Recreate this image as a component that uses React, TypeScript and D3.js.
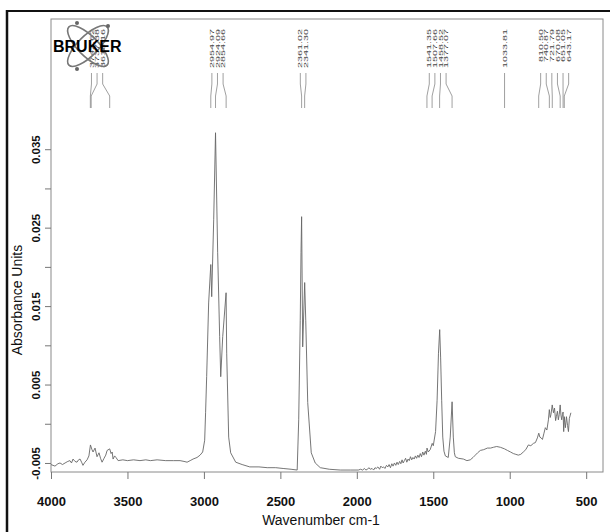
import React, { useEffect, useRef } from "react";
import * as d3 from "d3";

// spectrum: [wavenumber cm-1, absorbance], high wavenumber first
const spectrum: [number, number][] = [
  [4000, -0.0052], [3974, -0.0054], [3955, -0.0051], [3941, -0.005], [3925, -0.0052], [3908, -0.005],
  [3890, -0.0048], [3876, -0.0047], [3866, -0.005], [3856, -0.0045], [3843, -0.0048], [3830, -0.0049],
  [3820, -0.0046], [3810, -0.0045], [3800, -0.0049], [3791, -0.0053], [3778, -0.0049], [3764, -0.0046],
  [3752, -0.0041], [3742, -0.0027], [3732, -0.0033], [3725, -0.0036], [3712, -0.0031], [3699, -0.0042],
  [3686, -0.0037], [3676, -0.0044], [3666, -0.0049], [3653, -0.0044], [3642, -0.004], [3633, -0.0034],
  [3616, -0.0032], [3607, -0.0038], [3600, -0.0036], [3594, -0.0045], [3584, -0.0041], [3575, -0.0043],
  [3561, -0.0047], [3530, -0.0046], [3500, -0.0047], [3460, -0.0046], [3418, -0.0047], [3380, -0.0046],
  [3350, -0.0047], [3306, -0.0046], [3250, -0.0047], [3200, -0.0047], [3156, -0.0047], [3130, -0.0048],
  [3110, -0.0049], [3090, -0.0047], [3071, -0.0045], [3045, -0.0043], [3025, -0.004], [3008, -0.0036],
  [2995, -0.0021], [2989, 0.0014], [2982, 0.006], [2969, 0.0154], [2955, 0.0203], [2949, 0.0162],
  [2936, 0.026], [2924, 0.0371], [2910, 0.0218], [2897, 0.0111], [2890, 0.006], [2877, 0.0111],
  [2855, 0.0167], [2851, 0.009], [2838, -0.0017], [2825, -0.0037], [2792, -0.0049], [2750, -0.0052],
  [2700, -0.0055], [2640, -0.0055], [2586, -0.0056], [2530, -0.0056], [2482, -0.0057], [2430, -0.0058],
  [2390, -0.0059], [2380, 0.0005], [2370, 0.0132], [2365, 0.0218], [2361, 0.0264], [2354, 0.0098],
  [2341, 0.018], [2334, 0.0132], [2321, 0.0027], [2298, -0.0037], [2272, -0.005], [2239, -0.0056],
  [2180, -0.0058], [2108, -0.0059], [2040, -0.0059], [1990, -0.0059], [1975, -0.0058], [1962, -0.0059],
  [1950, -0.0057], [1941, -0.0059], [1930, -0.0058], [1921, -0.0056], [1912, -0.0058], [1900, -0.0057],
  [1890, -0.0059], [1881, -0.0056], [1873, -0.0057], [1862, -0.0055], [1851, -0.0058], [1843, -0.0054],
  [1834, -0.0056], [1825, -0.0055], [1816, -0.0057], [1806, -0.0053], [1797, -0.0055], [1789, -0.0052],
  [1780, -0.0056], [1771, -0.0051], [1763, -0.0054], [1754, -0.005], [1745, -0.0053], [1737, -0.0049],
  [1729, -0.0052], [1720, -0.0048], [1712, -0.0051], [1704, -0.0046], [1697, -0.005], [1689, -0.0047],
  [1681, -0.0044], [1673, -0.0049], [1665, -0.0045], [1657, -0.0047], [1649, -0.0042], [1641, -0.0046],
  [1633, -0.0043], [1625, -0.0045], [1617, -0.0041], [1609, -0.0044], [1601, -0.004], [1593, -0.0043],
  [1585, -0.0038], [1577, -0.0042], [1569, -0.0036], [1561, -0.004], [1552, -0.0035], [1545, -0.0039],
  [1541, -0.0031], [1533, -0.0036], [1520, -0.0033], [1507, -0.0025], [1500, -0.0028], [1485, -0.001],
  [1475, 0.003], [1466, 0.009], [1458, 0.012], [1452, 0.0085], [1445, 0.003], [1438, -0.0017],
  [1430, -0.0035], [1421, -0.0041], [1402, -0.0043], [1389, -0.0017], [1377, 0.0028], [1369, -0.0017],
  [1362, -0.0037], [1356, -0.0042], [1336, -0.0044], [1303, -0.0045], [1280, -0.0047], [1258, -0.0046],
  [1240, -0.0043], [1225, -0.004], [1210, -0.0037], [1192, -0.0034], [1170, -0.0033], [1146, -0.0031],
  [1125, -0.0031], [1107, -0.003], [1085, -0.0029], [1061, -0.003], [1034, -0.0032], [1015, -0.0034],
  [995, -0.0036], [976, -0.0038], [960, -0.0039], [944, -0.004], [928, -0.0039], [911, -0.0036],
  [895, -0.0033], [878, -0.0027], [862, -0.0028], [845, -0.0025], [832, -0.0024], [819, -0.0018],
  [810, -0.0012], [803, -0.0017], [795, -0.0018], [786, -0.002], [776, -0.0012], [767, -0.0005],
  [757, -0.0008], [747, 0.0005], [741, 0.0018], [735, 0.0008], [730, 0.0012], [722, 0.0024], [714, 0.0014],
  [707, 0.002], [700, 0.0004], [695, 0.0009], [688, 0.0016], [682, 0.0005], [676, 0.0012], [670, 0.0024],
  [665, 0.0011], [660, 0.0005], [655, 0.0012], [651, 0.0015], [647, -0.001], [643, 0.0009], [640, 0.0002],
  [636, -0.0005], [629, 0.0009], [622, -0.0002], [616, -0.001], [610, 0.0007], [604, 0.0011], [600, 0.0014],
];

const xTicks = [4000, 3500, 3000, 2500, 2000, 1500, 1000, 500];
const yTicks = [-0.005, 0, 0.005, 0.01, 0.015, 0.02, 0.025, 0.03, 0.035];
const yTickLabels = ["-0.005", "", "0.005", "", "0.015", "", "0.025", "", "0.035"];

// peak picks, grouped the way OPUS stacked their labels
const peakGroups = [
  [3742.62, 3737.38, 3616.16],
  [2954.97, 2924.09, 2854.66],
  [2361.02, 2341.3],
  [1541.35, 1507.66, 1458.52, 1377.07],
  [1033.81],
  [810.5, 740.87, 721.79, 670.08, 651.05, 643.17],
];

const App = () => {
  const ref = useRef<SVGSVGElement>(null);

  useEffect(() => {
    const W = 611;
    const H = 532;
    const margin = { top: 19, right: 8, bottom: 60, left: 51 };
    const font = "'Liberation Sans', Arial, sans-serif";

    const svg = d3.select(ref.current);
    svg.selectAll("*").remove();

    svg.append("rect").attr("width", W).attr("height", H).attr("fill", "#fff");

    // scan border
    svg.append("line").attr("x1", 7).attr("x2", 7).attr("y1", 10).attr("y2", H)
      .attr("stroke", "#111").attr("stroke-width", 2.5);
    svg.append("line").attr("x1", 6).attr("x2", 610).attr("y1", 11).attr("y2", 11)
      .attr("stroke", "#111").attr("stroke-width", 2);

    const x = d3.scaleLinear().domain([4000, 390]).range([margin.left, W - margin.right]);
    const y = d3.scaleLinear().domain([-0.00615, 0.0516]).range([H - margin.bottom, margin.top]);

    // frame
    svg.append("rect")
      .attr("x", margin.left).attr("y", margin.top)
      .attr("width", W - margin.right - margin.left)
      .attr("height", H - margin.bottom - margin.top)
      .attr("fill", "none").attr("stroke", "#8a8a8a").attr("stroke-width", 1);

    // x axis
    const gx = svg.append("g")
      .attr("transform", `translate(0,${H - margin.bottom})`)
      .call(d3.axisBottom(x).tickValues(xTicks).tickSize(7).tickFormat(d3.format("d")));
    gx.select(".domain").remove();
    gx.selectAll("line").attr("stroke", "#777");
    gx.selectAll("text")
      .attr("y", 34).attr("dy", 0)
      .attr("fill", "#111")
      .style("font-family", font)
      .style("font-size", "13px")
      .style("font-weight", "bold");

    svg.append("text")
      .attr("x", 321).attr("y", 525)
      .attr("text-anchor", "middle")
      .attr("fill", "#111")
      .style("font-family", font)
      .style("font-size", "14px")
      .text("Wavenumber cm-1");

    // y axis
    const gy = svg.append("g")
      .attr("transform", `translate(${margin.left},0)`)
      .call(d3.axisLeft(y).tickValues(yTicks).tickSize(6).tickFormat((d, i) => yTickLabels[i]));
    gy.select(".domain").remove();
    gy.selectAll("line").attr("stroke", "#777");
    gy.selectAll("text")
      .attr("transform", "rotate(-90)")
      .attr("x", 0).attr("y", -11).attr("dy", 0)
      .attr("text-anchor", "middle")
      .attr("fill", "#111")
      .style("font-family", font)
      .style("font-size", "11.5px")
      .style("font-weight", "bold");

    svg.append("text")
      .attr("transform", "translate(22,300) rotate(-90)")
      .attr("text-anchor", "middle")
      .attr("fill", "#111")
      .style("font-family", font)
      .style("font-size", "14px")
      .text("Absorbance Units");

    // spectrum
    const line = d3.line<[number, number]>().x((d) => x(d[0])).y((d) => y(d[1]));
    svg.append("path")
      .datum(spectrum)
      .attr("d", line)
      .attr("fill", "none")
      .attr("stroke", "#666")
      .attr("stroke-width", 0.9);

    // peak labels
    const gap = 5.6;
    const yTop = 29, y0 = 73, y1 = 84, y2 = 96, y3 = 108;
    const lab = svg.append("g");
    peakGroups.forEach((grp) => {
      const px = grp.map((w) => x(w));
      const mid = d3.mean(px) as number;
      grp.forEach((w, i) => {
        const lx = mid + (i - (grp.length - 1) / 2) * gap;
        lab.append("text")
          .attr("transform", `translate(${lx + 2.1},${yTop}) rotate(-90) scale(1.8,1)`)
          .attr("text-anchor", "end")
          .attr("fill", "#444")
          .style("font-family", font)
          .style("font-size", "6px")
          .text(w.toFixed(2));
        lab.append("path")
          .attr("d", `M${lx},${y0}L${lx},${y1}L${px[i]},${y2}L${px[i]},${y3}`)
          .attr("fill", "none")
          .attr("stroke", "#888")
          .attr("stroke-width", 0.8);
      });
    });

    // BRUKER logo
    const logo = svg.append("g");
    [45, -45].forEach((a) => {
      logo.append("ellipse")
        .attr("cx", 88).attr("cy", 46).attr("rx", 27).attr("ry", 10)
        .attr("transform", `rotate(${a},88,46)`)
        .attr("fill", "none").attr("stroke", "#777").attr("stroke-width", 1.6);
    });
    [[77, 23], [77, 69], [108, 26]].forEach(([cx, cy]) => {
      logo.append("circle").attr("cx", cx).attr("cy", cy).attr("r", 2).attr("fill", "#666");
    });
    logo.append("text")
      .attr("x", 53).attr("y", 52)
      .attr("fill", "#000")
      .style("font-family", font)
      .style("font-size", "16px")
      .style("font-weight", "bold")
      .text("BRUKER");
  }, []);

  return (
    <svg ref={ref} width={611} height={532}
      style={{ position: "absolute", left: 0, top: 0, display: "block" }} />
  );
};

export default App;
